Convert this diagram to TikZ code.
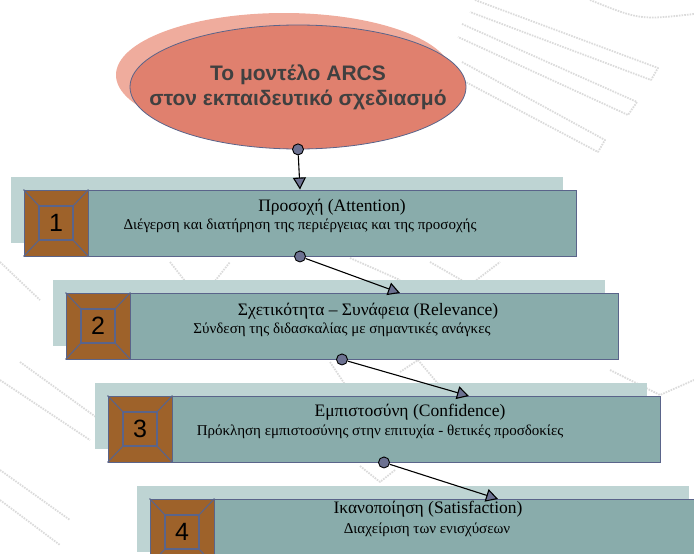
\documentclass[tikz,border=0pt]{standalone}
\usepackage{fontspec}
\setmainfont{Liberation Serif}
\setsansfont{Liberation Sans}
\usepackage{xcolor}
\usetikzlibrary{arrows.meta}
\usetikzlibrary{shapes.geometric}
\usetikzlibrary{calc}

\definecolor{boxteal}{RGB}{137,172,171}
\definecolor{shadeteal}{RGB}{190,212,211}
\definecolor{slate}{RGB}{90,100,138}
\definecolor{brownbox}{RGB}{158,98,42}
\definecolor{ovalfill}{RGB}{224,128,110}
\definecolor{ovalshade}{RGB}{239,172,157}
\definecolor{dotfill}{RGB}{108,113,145}
\definecolor{ovaltext}{RGB}{64,64,64}

% inner frame and number of a brown square
\newcommand{\numframe}[2]{%
  \draw[framelines] ($(#1.center)+(-17,-17)$) rectangle ($(#1.center)+(17,17)$);
  \draw[framelines] (#1.north west) -- ($(#1.center)+(-17,-17)$);
  \draw[framelines] (#1.north east) -- ($(#1.center)+(17,-17)$);
  \draw[framelines] (#1.south west) -- ($(#1.center)+(-17,17)$);
  \draw[framelines] (#1.south east) -- ($(#1.center)+(17,17)$);
  \node[numtext] at (#1.center) {#2};
}

\begin{document}
\begin{tikzpicture}[x=1pt,y=-1pt,
  wmark/.style={draw=gray!28, line width=1.8pt, dash pattern=on 1.6pt off 1.1pt, line join=round},
  topshade/.style={ellipse, fill=ovalshade, minimum width=336pt, minimum height=124pt, inner sep=0pt},
  topoval/.style={ellipse, draw=slate, line width=0.8pt, fill=ovalfill, minimum width=336pt, minimum height=124pt, inner sep=0pt},
  ovallabel/.style={align=center, inner sep=0pt, text=ovaltext, font=\sffamily\bfseries\fontsize{21}{25}\selectfont},
  shadebox/.style={fill=shadeteal, minimum width=552pt, minimum height=66pt, inner sep=0pt},
  stepbox/.style={draw=slate, line width=0.9pt, fill=boxteal, minimum width=552pt, minimum height=66pt, inner sep=0pt},
  numbox/.style={draw=slate, line width=0.9pt, fill=brownbox, minimum width=64pt, minimum height=66pt, inner sep=0pt},
  framelines/.style={draw=slate, line width=1.1pt},
  numtext/.style={inner sep=0pt, font=\sffamily\fontsize{25}{25}\selectfont},
  titletext/.style={inner sep=0pt, font=\fontsize{17.5}{20}\selectfont},
  subtext/.style={inner sep=0pt, font=\fontsize{15}{17}\selectfont},
  dot/.style={circle, draw=black, line width=0.9pt, fill=dotfill, minimum size=11pt, inner sep=0pt},
  link/.style={line width=1.1pt, -{Triangle[fill=dotfill, length=12pt, width=13pt]}}]
\useasboundingbox (0,0) rectangle (694,554);
\clip (0,0) rectangle (694,554);

% faint background ribbons
\draw[wmark] (475,0) -- (658,68) -- (651,80) -- (470,12);
\draw[wmark] (462,24) -- (637,102) -- (628,115) -- (458,37);
\draw[wmark] (462,62) -- (605,140) -- (598,152) -- (460,79);
\draw[wmark] (590,0) .. controls (640,20) .. (694,14);
\draw[wmark] (170,262) -- (200,300) -- (230,262);
\draw[wmark] (350,258) -- (400,280);
\draw[wmark] (430,262) -- (470,285) -- (500,262);
\draw[wmark] (330,362) -- (350,392);
\draw[wmark] (400,372) -- (418,360) -- (445,392);
\draw[wmark] (360,466) -- (380,482) -- (395,470);
\draw[wmark] (0,262) -- (40,300);
\draw[wmark] (0,380) -- (90,440);
\draw[wmark] (20,362) -- (100,420);
\draw[wmark] (0,470) -- (70,520);
\draw[wmark] (0,500) -- (60,545);
\draw[wmark] (610,370) -- (660,395) -- (694,380);

% title oval
\node[topshade] (es) at (284,75) {};
\node[topoval] (e) at (298,87) {};
\node[ovallabel] (et) at (e.center) {Το μοντέλο ARCS\\στον εκπαιδευτικό σχεδιασμό};

% step 1
\node[shadebox] (s1) at (286.5,210) {};
\node[stepbox] (b1) at (300,223) {};
\node[numbox, anchor=north west] (n1) at (b1.north west) {};
\numframe{n1}{1}
\node[titletext] (t1) at (332,207) {Προσοχή (Attention)};
\node[subtext] (u1) at (300,226) {Διέγερση και διατήρηση της περιέργειας και της προσοχής};

% step 2
\node[shadebox] (s2) at (328.5,313) {};
\node[stepbox] (b2) at (342,326) {};
\node[numbox, anchor=north west] (n2) at (b2.north west) {};
\numframe{n2}{2}
\node[titletext] (t2) at (368,311) {Σχετικότητα – Συνάφεια (Relevance)};
\node[subtext] (u2) at (342,330) {Σύνδεση της διδασκαλίας με σημαντικές ανάγκες};

% step 3
\node[shadebox] (s3) at (370.5,416) {};
\node[stepbox] (b3) at (384,429) {};
\node[numbox, anchor=north west] (n3) at (b3.north west) {};
\numframe{n3}{3}
\node[titletext] (t3) at (410,412) {Εμπιστοσύνη (Confidence)};
\node[subtext] (u3) at (380,432) {Πρόκληση εμπιστοσύνης στην επιτυχία - θετικές προσδοκίες};

% step 4
\node[shadebox] (s4) at (412.5,519) {};
\node[stepbox] (b4) at (426,532) {};
\node[numbox, anchor=north west] (n4) at (b4.north west) {};
\numframe{n4}{4}
\node[titletext] (t4) at (428,509) {Ικανοποίηση (Satisfaction)};
\node[subtext] (u4) at (427,530) {Διαχείριση των ενισχύσεων};

% connectors
\coordinate (a2) at (400,293);
\coordinate (a3) at (469,396);
\coordinate (a4) at (498,499);
\node[dot] (d0) at (e.south) {};
\node[dot] (d1) at (b1.south) {};
\node[dot] (d2) at (b2.south) {};
\node[dot] (d3) at (b3.south) {};
\draw[link] (d0) -- (b1.north);
\draw[link] (d1) -- (a2);
\draw[link] (d2) -- (a3);
\draw[link] (d3) -- (a4);
\end{tikzpicture}
\end{document}
